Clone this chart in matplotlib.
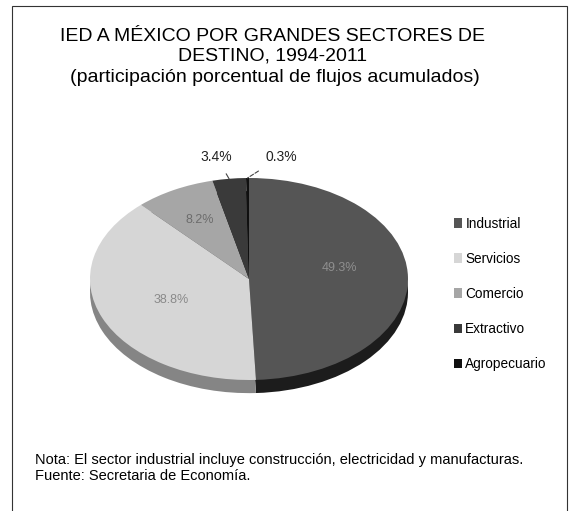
import numpy as np
import matplotlib
matplotlib.use("Agg")
import matplotlib.pyplot as plt
from matplotlib.patches import Patch, Rectangle

plt.rcParams['font.family'] = ['Liberation Sans', 'DejaVu Sans']

# Data
sectors = ["Industrial", "Servicios", "Comercio", "Extractivo", "Agropecuario"]
shares = [49.3, 38.8, 8.2, 3.4, 0.3]
labels = ["49.3%", "38.8%", "8.2%", "3.4%", "0.3%"]
colors = ["#555555", "#d6d6d6", "#a6a6a6", "#3a3a3a", "#101010"]
side_colors = ["#1c1c1c", "#858585", "#666666", "#151515", "#000000"]

W, H = 571, 511
fig = plt.figure(figsize=(W / 100, H / 100), dpi=100)

def fx(x):
    return x / W

def fy(y):
    return 1 - y / H

# frame around the chart
fig.patches.append(Rectangle((fx(12), fy(540)), fx(555), 540 / H - 6 / H,
                             transform=fig.transFigure, fill=False,
                             edgecolor="#333333", lw=0.8))

# titles
fig.text(fx(273), fy(46), "IED A MÉXICO POR GRANDES SECTORES DE\nDESTINO, 1994-2011",
         ha="center", va="center", fontsize=14, linespacing=1.2)
fig.text(fx(275), fy(78), "(participación porcentual de flujos acumulados)",
         ha="center", va="center", fontsize=14)

# pie axes, squashed to look tilted
cx, cy, rx, ry = 249, 279, 159, 101
left, right, top, bottom = 79, 419, 150, 430
ax = fig.add_axes([fx(left), fy(bottom), (right - left) / W, (bottom - top) / H])
depth = 0.13

# side of the disc (shifted copy underneath)
ax.pie(shares, colors=side_colors, startangle=90, counterclock=False,
       center=(0, -depth), radius=1, wedgeprops=dict(linewidth=0))
wedges, _ = ax.pie(shares, colors=colors, startangle=90, counterclock=False,
                   radius=1, wedgeprops=dict(linewidth=0))
ax.set_aspect("auto")
ax.set_xlim((left - cx) / rx, (right - cx) / rx)
ax.set_ylim(-(bottom - cy) / ry, (cy - top) / ry)
ax.axis("off")

# inner labels (hard to read in the scan, low contrast)
inner = {0: ("#8f8f8f", 0.57), 1: ("#8a8a8a", 0.53), 2: ("#6c6c6c", 0.66)}
for i, (col, r) in inner.items():
    w = wedges[i]
    ang = np.deg2rad((w.theta1 + w.theta2) / 2)
    ax.text(r * np.cos(ang), r * np.sin(ang) + (0.1 if i == 0 else 0), labels[i],
            ha="center", va="center", fontsize=9, color=col)

# outside labels with leader lines
for i, tx in [(3, -0.08), (4, 0.21)]:
    w = wedges[i]
    ang = np.deg2rad((w.theta1 + w.theta2) / 2)
    x0, y0 = np.cos(ang), np.sin(ang)
    ax.annotate(labels[i], xy=(x0, y0), xytext=(x0 + tx, 1.21),
                ha="center", va="center", fontsize=10, color="#222222",
                arrowprops=dict(arrowstyle="-", color="#444444", lw=0.8,
                                linestyle="--" if i == 4 else "-",
                                shrinkA=6, shrinkB=0))

# legend
handles = [Patch(facecolor=c, edgecolor="none") for c in colors]
fig.legend(handles, sectors, loc="upper left", bbox_to_anchor=(fx(447), fy(210)),
           frameon=False, fontsize=9.8, handlelength=0.6, handleheight=0.7,
           handletextpad=0.25, labelspacing=1.55, borderpad=0)

# note
fig.text(fx(35), fy(468), "Nota: El sector industrial incluye construcción, electricidad y manufacturas.\n"
         "Fuente: Secretaria de Economía.", ha="left", va="center", fontsize=10.5,
         linespacing=1.1)

fig.savefig("out.png", dpi=100)
